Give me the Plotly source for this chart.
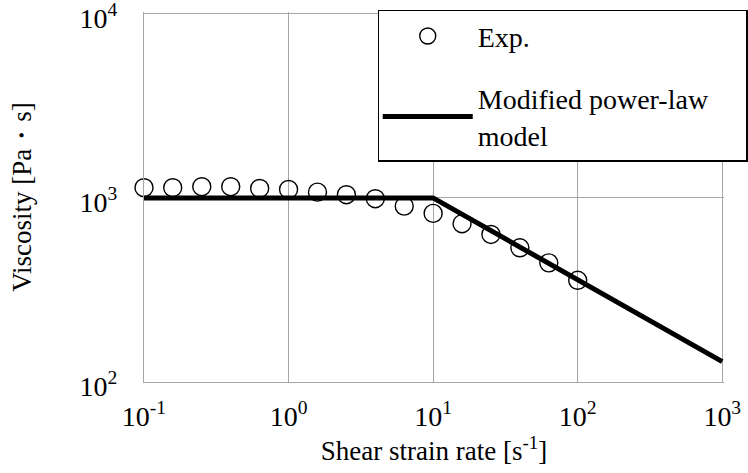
import plotly.graph_objects as go

# Experimental data
shear_rate = [0.1, 0.158, 0.251, 0.398, 0.631, 1.0, 1.585, 2.512, 3.981, 6.31,
              10.0, 15.85, 25.12, 39.81, 63.1, 100.0]
viscosity = [1136, 1136, 1151, 1151, 1126, 1112, 1075, 1041, 990, 903,
             824, 724, 633, 536, 444, 357]

# Modified power-law model
model_rate = [0.1, 10.0, 1000.0]
model_visc = [1000, 1000, 129]

x_tickvals = [0.1, 1, 10, 100, 1000]
x_ticktext = ["10<sup>-1</sup>", "10<sup>0</sup>", "10<sup>1</sup>", "10<sup>2</sup>", "10<sup>3</sup>"]
y_tickvals = [100, 1000, 10000]
y_ticktext = ["10<sup>2</sup>", "10<sup>3</sup>", "10<sup>4</sup>"]

FONT = "Liberation Serif"

fig = go.Figure()
fig.add_trace(go.Scatter(
    x=shear_rate, y=viscosity, mode="markers", name="Exp.",
    marker=dict(symbol="circle-open", size=18, color="black", line=dict(width=1.4, color="black")),
    cliponaxis=False, legendgroup="exp",
))
fig.add_trace(go.Scatter(
    x=model_rate, y=model_visc, mode="lines", name="Modified power-law<br>model",
    line=dict(color="black", width=5), cliponaxis=False, legendgroup="model",
))

fig.update_layout(
    width=748, height=473,
    margin=dict(l=144, r=24, t=12, b=91, autoexpand=False),
    plot_bgcolor="white", paper_bgcolor="white",
    font=dict(family=FONT, size=27, color="black"),
    showlegend=True,
    legend=dict(
        orientation="h", traceorder="grouped",
        x=0.403, y=1.006, xanchor="left", yanchor="top",
        bgcolor="white", bordercolor="black", borderwidth=1.5,
        font=dict(family=FONT, size=28, color="black"),
        itemwidth=90, entrywidth=263, tracegroupgap=23,
    ),
    xaxis=dict(
        type="log", range=[-1, 3.012],
        tickvals=x_tickvals, ticktext=x_ticktext,
        tickfont=dict(family=FONT, size=28, color="black"),
        showgrid=True, gridcolor="#a6a6a6", gridwidth=1,
        showline=True, linecolor="#a6a6a6", linewidth=1,
        ticks="", ticklabelstandoff=9,
        title=dict(text="Shear strain rate [s<sup>-1</sup>]", standoff=9,
                   font=dict(family=FONT, size=27, color="black")),
        zeroline=False,
    ),
    yaxis=dict(
        type="log", range=[2, 4.01],
        tickvals=y_tickvals, ticktext=y_ticktext,
        tickfont=dict(family=FONT, size=28, color="black"),
        showgrid=True, gridcolor="#a6a6a6", gridwidth=1,
        showline=True, linecolor="#a6a6a6", linewidth=1,
        ticks="", ticklabelstandoff=20, ticklabeloverflow="allow",
        ticklabelshift=4,
        title=dict(text="Viscosity [Pa・s]", standoff=40,
                   font=dict(family=FONT, size=27, color="black")),
        zeroline=False,
    ),
)

fig.write_html("out.html")
